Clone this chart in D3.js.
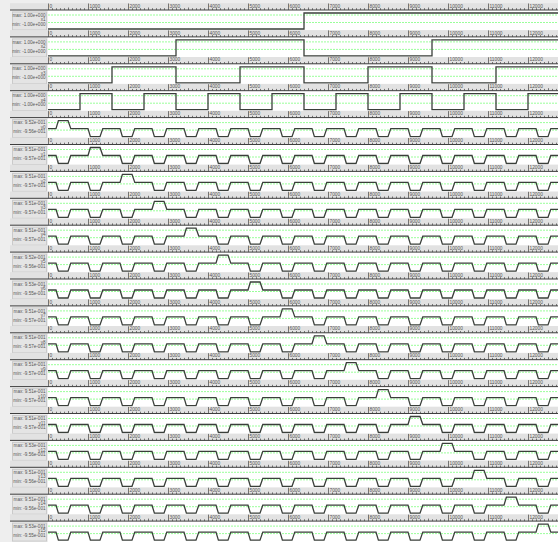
<!DOCTYPE html>
<html>
<head>
<meta charset="utf-8">
<script src="https://cdn.jsdelivr.net/npm/d3@7"></script>
<style>
  body { margin: 0; background: #ececec; }
  svg { display: block; }
</style>
</head>
<body>
<div id="container"></div>
<script>
const WIDTH = 558;
const HEIGHT = 542;

// signal names, top to bottom
const names = ['x1', 'x2', 'x3', 'x4', 'y0', 'y1', 'y2', 'y3', 'y4', 'y5', 'y6', 'y7',
  'y8', 'y9', 'y10', 'y11', 'y12', 'y13', 'y14', 'y15'];

// labels in the left boxes
const maxLabels = ['1.00e+000', '1.00e+000', '1.00e+000', '1.00e+000',
  '9.52e-001', '9.51e-001', '9.51e-001', '9.51e-001', '9.51e-001', '9.52e-001', '9.53e-001', '9.51e-001',
  '9.51e-001', '9.51e-001', '9.51e-001', '9.51e-001', '9.53e-001', '9.51e-001', '9.51e-001', '9.53e-001'];
const minLabels = ['-1.00e+000', '-1.00e+000', '-1.00e+000', '-1.00e+000',
  '-9.56e-001', '-9.57e-001', '-9.57e-001', '-9.57e-001', '-9.57e-001', '-9.56e-001', '-9.55e-001', '-9.57e-001',
  '-9.57e-001', '-9.57e-001', '-9.57e-001', '-9.57e-001', '-9.56e-001', '-9.56e-001', '-9.56e-001', '-9.55e-001'];

// start time of each step, 16 steps of 800
const stepTimes = [0, 800, 1600, 2400, 3200, 4000, 4800, 5600, 6400, 7200, 8000, 8800, 9600, 10400, 11200, 12000];

// input levels per step
const x1 = [-1, -1, -1, -1, -1, -1, -1, -1, 1, 1, 1, 1, 1, 1, 1, 1];
const x2 = [-1, -1, -1, -1, 1, 1, 1, 1, -1, -1, -1, -1, 1, 1, 1, 1];
const x3 = [-1, -1, 1, 1, -1, -1, 1, 1, -1, -1, 1, 1, -1, -1, 1, 1];
const x4 = [-1, 1, -1, 1, -1, 1, -1, 1, -1, 1, -1, 1, -1, 1, -1, 1];

// output pulse direction per step (1 = up, -1 = down)
const y0 = [1, -1, -1, -1, -1, -1, -1, -1, -1, -1, -1, -1, -1, -1, -1, -1];
const y1 = [-1, 1, -1, -1, -1, -1, -1, -1, -1, -1, -1, -1, -1, -1, -1, -1];
const y2 = [-1, -1, 1, -1, -1, -1, -1, -1, -1, -1, -1, -1, -1, -1, -1, -1];
const y3 = [-1, -1, -1, 1, -1, -1, -1, -1, -1, -1, -1, -1, -1, -1, -1, -1];
const y4 = [-1, -1, -1, -1, 1, -1, -1, -1, -1, -1, -1, -1, -1, -1, -1, -1];
const y5 = [-1, -1, -1, -1, -1, 1, -1, -1, -1, -1, -1, -1, -1, -1, -1, -1];
const y6 = [-1, -1, -1, -1, -1, -1, 1, -1, -1, -1, -1, -1, -1, -1, -1, -1];
const y7 = [-1, -1, -1, -1, -1, -1, -1, 1, -1, -1, -1, -1, -1, -1, -1, -1];
const y8 = [-1, -1, -1, -1, -1, -1, -1, -1, 1, -1, -1, -1, -1, -1, -1, -1];
const y9 = [-1, -1, -1, -1, -1, -1, -1, -1, -1, 1, -1, -1, -1, -1, -1, -1];
const y10 = [-1, -1, -1, -1, -1, -1, -1, -1, -1, -1, 1, -1, -1, -1, -1, -1];
const y11 = [-1, -1, -1, -1, -1, -1, -1, -1, -1, -1, -1, 1, -1, -1, -1, -1];
const y12 = [-1, -1, -1, -1, -1, -1, -1, -1, -1, -1, -1, -1, 1, -1, -1, -1];
const y13 = [-1, -1, -1, -1, -1, -1, -1, -1, -1, -1, -1, -1, -1, 1, -1, -1];
const y14 = [-1, -1, -1, -1, -1, -1, -1, -1, -1, -1, -1, -1, -1, -1, 1, -1];
const y15 = [-1, -1, -1, -1, -1, -1, -1, -1, -1, -1, -1, -1, -1, -1, -1, 1];

const inputs = [x1, x2, x3, x4];
const outputs = [y0, y1, y2, y3, y4, y5, y6, y7, y8, y9, y10, y11, y12, y13, y14, y15];

// idle level of the outputs and the pulse shape inside a step
const idleLevel = 0;
const pulseTimes = [200, 260, 500, 570];

const tickValues = [0, 1000, 2000, 3000, 4000, 5000, 6000, 7000, 8000, 9000, 10000, 11000, 12000];

const PLOT_LEFT = 48;
const PANEL = 26.9;
const TOP = 4;
const RULER = 6;

const x = d3.scaleLinear().domain([0, 12750]).range([PLOT_LEFT, WIDTH]);

const svg = d3.select('#container').append('svg').attr('width', WIDTH).attr('height', HEIGHT);

svg.append('rect').attr('width', WIDTH).attr('height', HEIGHT).attr('fill', '#eeeeee');

const line = d3.line().x((d) => x(d[0])).y((d) => d[1]);

const font = 'Arial, "Liberation Sans", sans-serif';

names.forEach((name, i) => {
  const top = TOP + i * PANEL;
  const g = svg.append('g').attr('transform', `translate(0,${top})`);

  // plot area
  g.append('rect').attr('x', PLOT_LEFT).attr('y', RULER).attr('width', WIDTH - PLOT_LEFT)
    .attr('height', PANEL - RULER).attr('fill', '#fff');

  // ruler strip
  g.append('rect').attr('x', 10).attr('y', -0.8).attr('width', WIDTH - 10).attr('height', RULER + 0.8)
    .attr('fill', '#e2e2e2');
  g.append('line').attr('x1', 10).attr('x2', WIDTH).attr('y1', RULER).attr('y2', RULER)
    .attr('stroke', '#2a2a2a').attr('stroke-width', 0.9);

  const minor = d3.range(0, 12800, 100);
  g.selectAll('.minor').data(minor).join('line')
    .attr('x1', (d) => Math.round(x(d)) + 0.5).attr('x2', (d) => Math.round(x(d)) + 0.5)
    .attr('y1', (d) => (d % 1000 === 0 ? -0.5 : d % 500 === 0 ? RULER - 2.5 : RULER - 1.8))
    .attr('y2', RULER)
    .attr('stroke', '#444').attr('stroke-width', 0.7);

  g.selectAll('.tl').data(tickValues).join('text')
    .attr('x', (d) => x(d) + 1.5).attr('y', 3.6)
    .attr('font-family', font).attr('font-size', 4.8)
    .attr('fill', '#555').text((d) => d);

  // green guide lines
  [RULER + 5, RULER + 12.5].forEach((gy) => {
    g.append('line').attr('x1', PLOT_LEFT).attr('x2', WIDTH).attr('y1', gy).attr('y2', gy)
      .attr('stroke', '#80ff80').attr('stroke-width', 0.8).attr('stroke-dasharray', '2,1');
  });

  // label box
  g.append('rect').attr('x', 12.5).attr('y', RULER + 2).attr('width', 34).attr('height', 18)
    .attr('fill', '#e4e4e4').attr('stroke', '#cacaca');
  const lt = g.append('g').attr('font-family', font)
    .attr('font-size', 4.6).attr('fill', '#555').attr('text-anchor', 'end');
  lt.append('text').attr('x', 45.5).attr('y', RULER + 6.7).text(`max: ${maxLabels[i]}`);
  lt.append('text').attr('x', 45.5).attr('y', RULER + 11.2).text(name);
  lt.append('text').attr('x', 45.5).attr('y', RULER + 15.7).text(`min: ${minLabels[i]}`);

  // waveform
  const y = d3.scaleLinear().domain([-1, 1]).range([RULER + 19, RULER + 3]);
  let pts = [];
  if (i < 4) {
    inputs[i].forEach((v, k) => {
      pts.push([stepTimes[k], y(v)]);
      pts.push([stepTimes[k] + 800, y(v)]);
    });
  } else {
    outputs[i - 4].forEach((v, k) => {
      const t = stepTimes[k];
      pts.push([t, y(idleLevel)]);
      pts.push([t + pulseTimes[0], y(idleLevel)]);
      pts.push([t + pulseTimes[1], y(v)]);
      pts.push([t + pulseTimes[2], y(v)]);
      pts.push([t + pulseTimes[3], y(idleLevel)]);
      pts.push([t + 800, y(idleLevel)]);
    });
  }
  g.append('path').attr('d', line(pts)).attr('fill', 'none')
    .attr('stroke', '#3a3f3a').attr('stroke-width', 1.3);
});
</script>
</body>
</html>
